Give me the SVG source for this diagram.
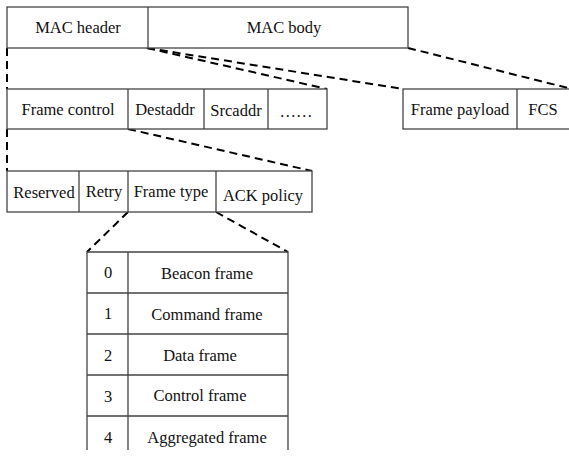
<svg xmlns="http://www.w3.org/2000/svg" width="569" height="457" viewBox="0 0 569 457">
<style>
.box{fill:#fff;stroke:#444;stroke-width:1.3}
.ln{stroke:#444;stroke-width:1.3;fill:none}
.dash{stroke:#000;stroke-width:2;stroke-dasharray:8,5;fill:none}
text{font-family:"Liberation Serif","Times New Roman",serif;font-size:16.5px;fill:#111;text-anchor:middle}
</style>
<rect width="569" height="457" fill="#fff"/>
<g id="connectors">
<line class="dash" x1="7" y1="48" x2="7" y2="89"/>
<line class="dash" x1="147" y1="48" x2="327" y2="89"/>
<line class="dash" x1="147" y1="48" x2="403" y2="89"/>
<line class="dash" x1="408" y1="48" x2="572" y2="89"/>
<line class="dash" x1="7" y1="129" x2="7" y2="171"/>
<line class="dash" x1="128" y1="129" x2="312" y2="171"/>
<line class="dash" x1="128" y1="212" x2="87" y2="252"/>
<line class="dash" x1="216" y1="212" x2="288" y2="252"/>
</g>
<g id="mac-frame">
<rect class="box" x="7" y="7" width="401" height="41"/>
<line class="ln" x1="148" y1="7" x2="148" y2="48"/>
<text x="78" y="33">MAC header</text>
<text x="284" y="33">MAC body</text>
</g>
<g id="mac-header">
<rect class="box" x="7" y="89" width="320" height="40"/>
<line class="ln" x1="128" y1="89" x2="128" y2="129"/>
<line class="ln" x1="204" y1="89" x2="204" y2="129"/>
<line class="ln" x1="268" y1="89" x2="268" y2="129"/>
<text x="68" y="115">Frame control</text>
<text x="165" y="115">Destaddr</text>
<text x="236" y="116">Srcaddr</text>
<text x="296" y="117">……</text>
</g>
<g id="mac-body">
<rect class="box" x="403" y="89" width="170" height="40"/>
<line class="ln" x1="517" y1="89" x2="517" y2="129"/>
<text x="460" y="115">Frame payload</text>
<text x="543" y="115">FCS</text>
</g>
<g id="frame-control">
<rect class="box" x="7" y="171" width="305" height="41"/>
<line class="ln" x1="79" y1="171" x2="79" y2="212"/>
<line class="ln" x1="128" y1="171" x2="128" y2="212"/>
<line class="ln" x1="216" y1="171" x2="216" y2="212"/>
<text x="44" y="198">Reserved</text>
<text x="104" y="197">Retry</text>
<text x="171" y="197">Frame type</text>
<text x="263" y="201">ACK policy</text>
</g>
<g id="frame-type-table">
<path class="ln" d="M87,450 V252 H288 V450 M128,252 V450 M87,293 H288 M87,334 H288 M87,375 H288 M87,416 H288"/>
<text x="108" y="278">0</text>
<text x="207" y="279">Beacon frame</text>
<text x="108" y="319">1</text>
<text x="207" y="320">Command frame</text>
<text x="108" y="361">2</text>
<text x="200" y="361">Data frame</text>
<text x="108" y="402">3</text>
<text x="200" y="401">Control frame</text>
<text x="108" y="443">4</text>
<text x="207" y="443">Aggregated frame</text>
</g>
</svg>
